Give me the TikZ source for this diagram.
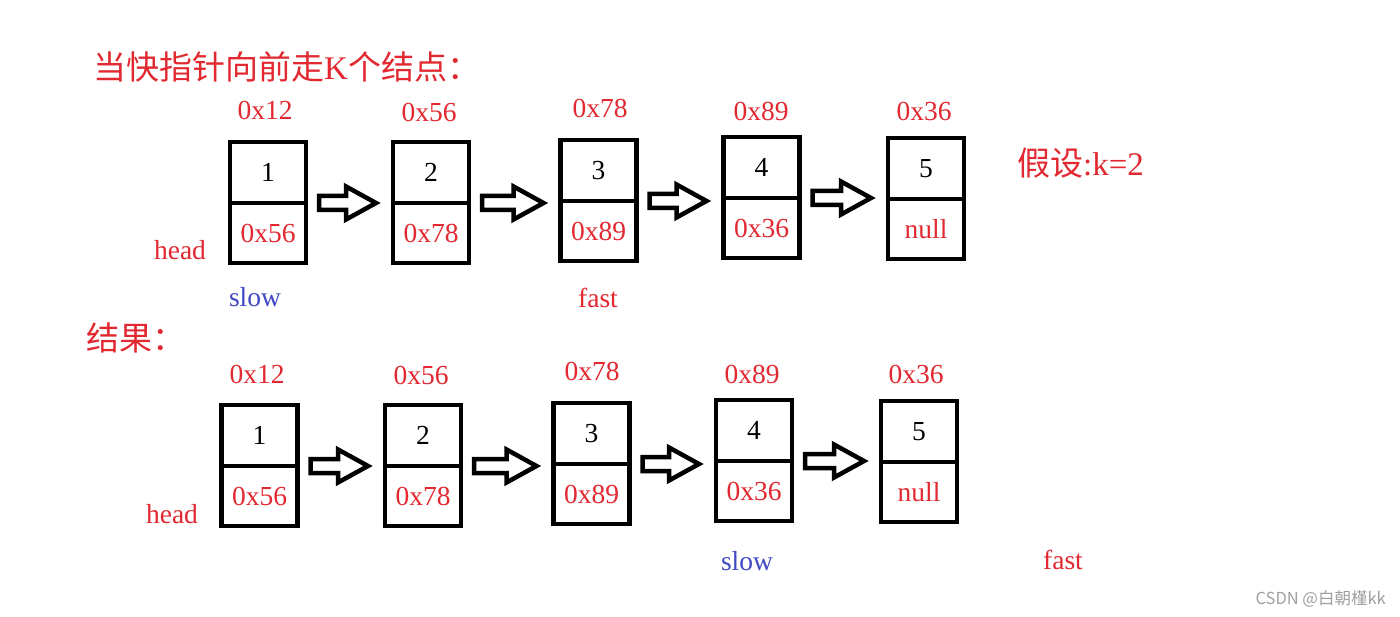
\documentclass[tikz,border=0pt]{standalone}
\usepackage{fontspec}
\setmainfont{Liberation Serif}
\newfontfamily\cjk{Noto Sans CJK SC}
\usetikzlibrary{calc}
\definecolor{myred}{RGB}{226,40,48}
\definecolor{myblue}{RGB}{64,72,196}
\definecolor{wm}{RGB}{160,160,160}
\tikzset{
  half/.style={draw, line width=4.5pt, minimum width=76pt, outer sep=0pt, inner sep=0pt, font=\fontsize{27.5}{30}\selectfont},
  tophalf/.style={half, minimum height=61pt, text=black},
  bothalf/.style={half, minimum height=60pt, text=myred},
  lab/.style={font=\fontsize{27.5}{30}\selectfont, inner sep=0pt},
  addr/.style={lab, text=myred},
  blockarrow/.style={draw, line width=4.5pt, line join=miter, miter limit=10},
  title/.style={font=\cjk\fontsize{33}{36}\selectfont, text=myred, inner sep=0pt, anchor=west}
}
\newcommand\blockarr[2]{%
  \draw[blockarrow] let \p1=($(#1.south east)+(13pt,0)$), \p2=($(#2.south west)+(-17pt,0)$) in
    (\x1,\y1+7pt) -- (\x2-30pt,\y1+7pt) -- (\x2-30pt,\y1+16.5pt) -- (\x2,\y1) --
    (\x2-30pt,\y1-16.5pt) -- (\x2-30pt,\y1-7pt) -- (\x1,\y1-7pt) -- cycle;}
\begin{document}
\begin{tikzpicture}[x=1pt,y=-1pt]
\useasboundingbox[fill=white] (0,0) rectangle (1400,617);
% titles
\node[title] (t) at (93,67) {当快指针向前走{\rmfamily K}个结点：};
\node[title] (k) at (1017,163) {假设{\rmfamily :k=2}};
\node[title] (r) at (86,338) {结果：};
% top row boxes
\foreach \n/\x/\y/\v/\p in {1/268/142/1/0x56, 2/431/142/2/0x78, 3/598.5/140/3/0x89, 4/761.5/137/4/0x36, 5/926/138/5/null}{
  \node[tophalf, anchor=north] (a\n) at (\x,\y) {\v};
  \node[bothalf, anchor=north] (ap\n) at (a\n.south) {\p};
}
% bottom row boxes
\foreach \n/\x/\y/\v/\p in {1/259.5/405/1/0x56, 2/423/405/2/0x78, 3/591.5/403/3/0x89, 4/754/400/4/0x36, 5/919/401/5/null}{
  \node[tophalf, anchor=north] (b\n) at (\x,\y) {\v};
  \node[bothalf, anchor=north] (bp\n) at (b\n.south) {\p};
}
% arrows
\blockarr{a1}{a2}
\blockarr{a2}{a3}
\blockarr{a3}{a4}
\blockarr{a4}{a5}
\blockarr{b1}{b2}
\blockarr{b2}{b3}
\blockarr{b3}{b4}
\blockarr{b4}{b5}
% address labels top
\node[addr] (aa1) at (265,110) {0x12};
\node[addr] (aa2) at (429,112) {0x56};
\node[addr] (aa3) at (600,108) {0x78};
\node[addr] (aa4) at (761,111) {0x89};
\node[addr] (aa5) at (924,111) {0x36};
\node[addr] (ahead) at (180,250) {head};
\node[lab, text=myblue] (aslow) at (255,297) {slow};
\node[addr] (afast) at (598,298) {fast};
% address labels bottom
\node[addr] (ba1) at (257,374) {0x12};
\node[addr] (ba2) at (421,375) {0x56};
\node[addr] (ba3) at (592,371) {0x78};
\node[addr] (ba4) at (752,374) {0x89};
\node[addr] (ba5) at (916,374) {0x36};
\node[addr] (bhead) at (172,514) {head};
\node[lab, text=myblue] (bslow) at (747,561) {slow};
\node[addr] (bfast) at (1063,560) {fast};
% watermark
\node[font=\cjk\fontsize{16.5}{18}\selectfont, text=wm, inner sep=0pt, anchor=east] (wmk) at (1386,599) {CSDN @白朝槿kk};
\end{tikzpicture}
\end{document}
